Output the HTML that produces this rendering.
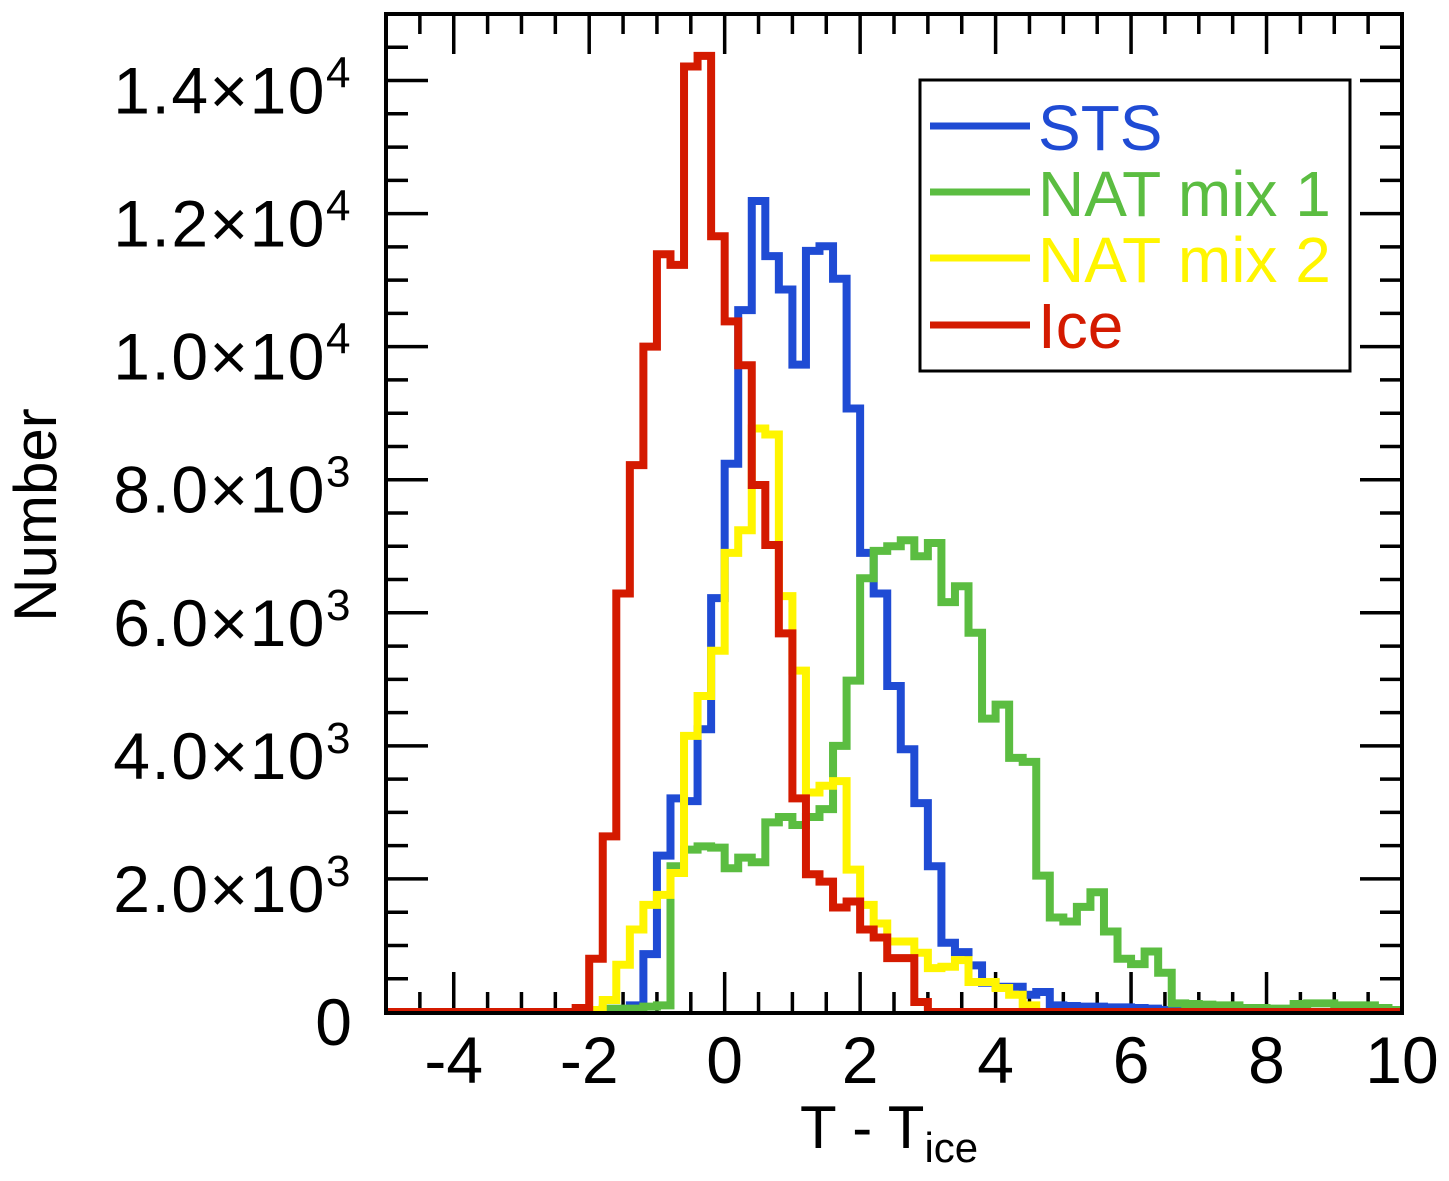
<!DOCTYPE html>
<html><head><meta charset="utf-8"><style>
html,body{margin:0;padding:0;background:#fff;}
svg{display:block;font-family:"Liberation Sans",Arial,sans-serif;}
</style></head><body>
<svg id="chart" width="1449" height="1181" viewBox="0 0 1449 1181" xmlns="http://www.w3.org/2000/svg">
<defs><clipPath id="plotclip"><rect x="386" y="14" width="1016" height="999"/></clipPath></defs>
<g id="ticks"></g>
<g id="series" clip-path="url(#plotclip)"></g>
<rect x="386" y="14" width="1016" height="999" fill="none" stroke="#000" stroke-width="4"/>
<g id="labels"></g>
<text x="800" y="1148" font-size="60">T - T<tspan font-size="42" dy="14">ice</tspan></text>
<text transform="translate(56,515) rotate(-90)" text-anchor="middle" font-size="60">Number</text>
<g>
<rect x="920" y="80" width="430" height="291" fill="#fff" stroke="#000" stroke-width="3"/>
<g><line x1="930" y1="126" x2="1030" y2="126" stroke="#1f4bd4" stroke-width="7"/><text x="1038" y="150" font-size="64" fill="#1f4bd4">STS</text></g>
<g><line x1="930" y1="192" x2="1030" y2="192" stroke="#5bbd41" stroke-width="7"/><text x="1038" y="216" font-size="64" fill="#5bbd41">NAT mix 1</text></g>
<g><line x1="930" y1="258" x2="1030" y2="258" stroke="#fff500" stroke-width="7"/><text x="1038" y="282" font-size="64" fill="#fff500">NAT mix 2</text></g>
<g><line x1="930" y1="325" x2="1030" y2="325" stroke="#d41a00" stroke-width="7"/><text x="1038" y="348" font-size="64" fill="#d41a00">Ice</text></g>
</g>
</svg>
<script>
const binStart = -5;
const binWidth = 0.2;
const xTicks = [-4, -2, 0, 2, 4, 6, 8, 10];
const xTickLabels = ["-4", "-2", "0", "2", "4", "6", "8", "10"];
const yTicks = [0, 2000, 4000, 6000, 8000, 10000, 12000, 14000];
const yTickLabels = ["0", "2.0", "4.0", "6.0", "8.0", "1.0", "1.2", "1.4"];
const yTickExps = ["", "3", "3", "3", "3", "4", "4", "4"];
const seriesNames = ["STS", "NAT mix 1", "NAT mix 2", "Ice"];
const stsValues = [0,0,0,0,0,0,0,0,0,0,0,0,0,0,0,0,0,0,100,870,2350,3210,3170,4250,6220,8240,10550,12190,11360,10860,9730,11440,11510,11020,9070,6900,6290,4900,3950,3140,2190,1040,900,700,440,380,380,260,300,100,90,80,80,70,70,60,50,30,30,20,20,10,10,0,0,0,0,0,0,0,0,0,0,0,0];
const nat1Values = [0,0,0,0,0,0,0,0,0,0,0,0,0,0,0,0,50,50,50,80,100,2190,2440,2490,2470,2160,2320,2250,2850,2930,2810,2930,3050,4000,4980,6520,6930,7000,7090,6850,7050,6160,6400,5700,4410,4620,3820,3760,2050,1420,1360,1580,1800,1210,800,720,910,590,130,120,110,100,100,60,60,50,50,120,130,130,100,100,100,60,30];
const nat2Values = [0,0,0,0,0,0,0,0,0,0,0,0,0,0,0,30,180,710,1240,1610,1760,2090,4150,4750,5430,6900,7240,8770,8680,6250,5130,3300,3400,3470,2140,1610,1330,1060,1060,890,660,680,780,450,450,360,260,100,0,0,0,0,0,0,0,0,0,0,0,0,0,0,0,0,0,0,0,0,0,0,0,0,0,0,0];
const iceValues = [0,0,0,0,0,0,0,0,0,0,0,0,0,0,60,800,2640,6290,8220,10000,11390,11230,14210,14370,11660,10380,9720,7920,7020,5690,3210,2070,1960,1570,1660,1240,1120,810,810,150,0,0,0,0,0,0,0,0,0,0,0,0,0,0,0,0,0,0,0,0,0,0,0,0,0,0,0,0,0,0,0,0,0,0,0];

const NS = "http://www.w3.org/2000/svg";
const X0 = 386, X1 = 1402, Y0 = 1012, Y1 = 14;
const xMin = -5, xMax = 10, yMin = 0, yMax = 15000;
function xs(v){ return X0 + (v - xMin) / (xMax - xMin) * (X1 - X0); }
function ys(v){ return Y0 - (v - yMin) / (yMax - yMin) * (Y0 - Y1); }

const ticksG = document.getElementById('ticks');
const labelsG = document.getElementById('labels');
function tick(x1,y1,x2,y2){
  const l = document.createElementNS(NS,'line');
  l.setAttribute('x1',x1); l.setAttribute('y1',y1); l.setAttribute('x2',x2); l.setAttribute('y2',y2);
  l.setAttribute('stroke','#000'); l.setAttribute('stroke-width','3.5');
  
  
  ticksG.appendChild(l);
}
for (let v = -5; v <= 10.001; v += 0.5) {
  const major = Math.abs(v/2 - Math.round(v/2)) < 1e-6;
  const len = major ? 40 : 20;
  const x = xs(v);
  tick(x, Y0, x, Y0 - len);
  tick(x, Y1, x, Y1 + len);
}
for (let v = 0; v <= 15000; v += 500) {
  const major = v % 2000 === 0;
  const len = major ? 42 : 22;
  const y = ys(v);
  tick(X0, y, X0 + len, y);
  tick(X1, y, X1 - len, y);
}
xTicks.forEach((v, i) => {
  const t = document.createElementNS(NS,'text');
  t.setAttribute('x', xs(v)); t.setAttribute('y', 1083);
  t.setAttribute('text-anchor','middle'); t.setAttribute('font-size','66');
  t.textContent = xTickLabels[i];
  
  
  labelsG.appendChild(t);
});
yTicks.forEach((v, i) => {
  const t = document.createElementNS(NS,'text');
  t.setAttribute('x', 352); t.setAttribute('y', ys(v) + 33);
  t.setAttribute('text-anchor','end'); t.setAttribute('font-size','66');
  if (yTickExps[i]) {
    t.setAttribute('letter-spacing','1.5');
    t.textContent = yTickLabels[i] + '\u00d710';
    const s = document.createElementNS(NS,'tspan');
    s.setAttribute('font-size','44'); s.setAttribute('dy','-26');
    s.textContent = yTickExps[i];
    t.appendChild(s);
  } else {
    t.textContent = yTickLabels[i];
  }
  
  
  labelsG.appendChild(t);
});

const seriesG = document.getElementById('series');
function drawHist(values, color, name){
  let d = '';
  values.forEach((v, i) => {
    const xl = xs(binStart + i * binWidth), xr = xs(binStart + (i + 1) * binWidth);
    const y = ys(v);
    d += (i === 0 ? 'M' : 'L') + xl.toFixed(2) + ',' + y.toFixed(2) + 'L' + xr.toFixed(2) + ',' + y.toFixed(2);
  });
  const p = document.createElementNS(NS,'path');
  p.setAttribute('d', d); p.setAttribute('fill','none');
  p.setAttribute('stroke', color); p.setAttribute('stroke-width','8');
  p.setAttribute('stroke-linejoin','miter');
  
  
  seriesG.appendChild(p);
}
drawHist(stsValues, '#1f4bd4', 'sts-histogram');
drawHist(nat1Values, '#5bbd41', 'nat-mix-1-histogram');
drawHist(nat2Values, '#fff500', 'nat-mix-2-histogram');
drawHist(iceValues, '#d41a00', 'ice-histogram');
</script>
</body></html>
